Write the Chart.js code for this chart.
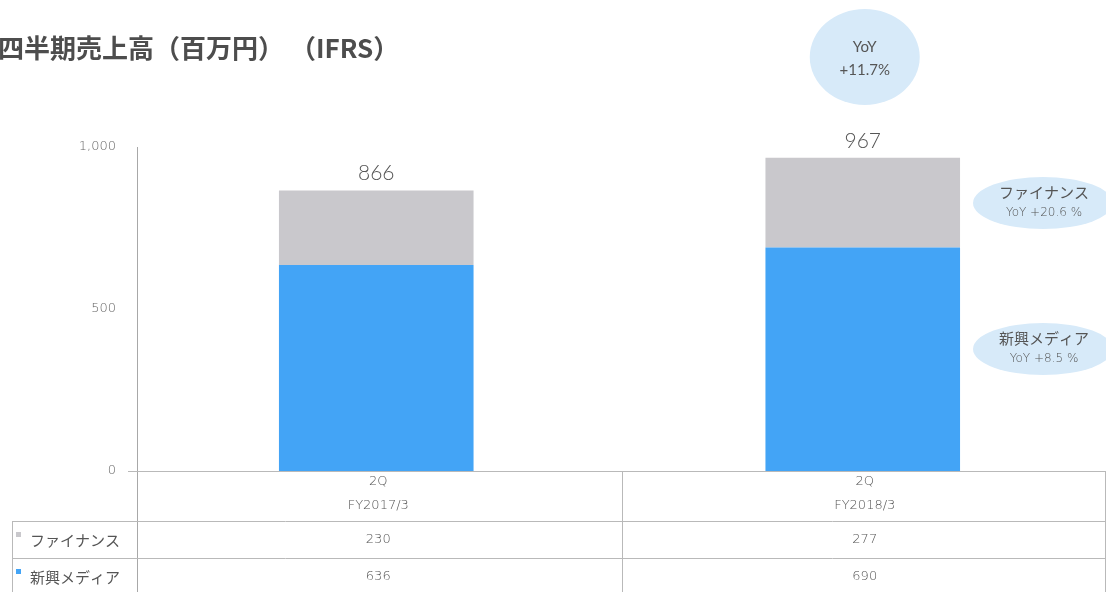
<!DOCTYPE html>
<html lang="ja">
<head>
<meta charset="utf-8">
<title>四半期売上高（百万円）（IFRS）</title>
<script src="https://cdn.jsdelivr.net/npm/chart.js@4.4.1/dist/chart.umd.min.js"></script>
<style>
  html, body { margin: 0; padding: 0; background: #ffffff; }
  #wrap { width: 1106px; height: 592px; position: relative; }
</style>
</head>
<body>
<div id="wrap"><canvas id="c" width="1106" height="592"></canvas></div>
<script>
// Quarterly sales (million yen), by segment
const categories = [["2Q", "FY2017/3"], ["2Q", "FY2018/3"]];
const seriesNames = ["新興メディア", "ファイナンス"];
const mediaValues = [636, 690];
const financeValues = [230, 277];
const yTicks = [0, 500, 1000];
const totalYoY = ["YoY", "+11.7%"];
const financeYoY = ["ファイナンス", "YoY +20.6 %"];
const mediaYoY = ["新興メディア", "YoY +8.5 %"];

const BLUE = "#43a4f6";
const GRAY = "#c9c8cc";
const BUBBLE = "#d7eaf9";
const TEXT = "#555555";
const LINE = "#b9b9b9";
const LATIN = "Lato, 'DejaVu Sans', sans-serif";
const WIDE = "'DejaVu Sans', Lato, sans-serif";
const CJK = "'Noto Sans CJK JP', 'Noto Sans', sans-serif";
const AXIS_X = 137; // where the value axis line sits

const totals = mediaValues.map((v, i) => v + financeValues[i]);

function fmt(n) { return n.toLocaleString("en-US"); }

const overlay = {
  id: "overlay",
  afterDraw(chart) {
    const ctx = chart.ctx;
    const x = chart.scales.x;
    const y = chart.scales.y;
    const area = chart.chartArea;
    const W = chart.width, H = chart.height;
    ctx.save();

    // Title
    ctx.fillStyle = "#4d4d4d";
    ctx.font = "bold 26px " + CJK;
    ctx.textAlign = "left";
    ctx.textBaseline = "middle";
    ctx.fillText("四半期売上高（百万円） （IFRS）", -2, 48);

    // Value axis line
    ctx.strokeStyle = "#a8a8a8";
    ctx.lineWidth = 1;
    ctx.beginPath();
    ctx.moveTo(AXIS_X + 0.5, area.top);
    ctx.lineTo(AXIS_X + 0.5, H);
    ctx.stroke();

    // Totals above each stack
    ctx.font = "300 21px " + LATIN;
    ctx.textAlign = "center";
    ctx.textBaseline = "alphabetic";
    totals.forEach((t, i) => {
      ctx.fillStyle = TEXT;
      ctx.fillText(fmt(t), x.getPixelForValue(i), y.getPixelForValue(t) - 10);
    });

    // YoY bubble over the latest bar
    const bx = x.getPixelForValue(1) + 2;
    ctx.fillStyle = BUBBLE;
    ctx.beginPath();
    ctx.ellipse(bx, 57, 55, 48, 0, 0, Math.PI * 2);
    ctx.fill();
    ctx.fillStyle = TEXT;
    ctx.font = "15px " + LATIN;
    ctx.textBaseline = "middle";
    ctx.fillText(totalYoY[0], bx, 47);
    ctx.fillText(totalYoY[1], bx, 70);

    // Segment YoY ellipses at the right
    function segBubble(lines, cy) {
      const cx = 1043;
      ctx.fillStyle = BUBBLE;
      ctx.beginPath();
      ctx.ellipse(cx, cy, 70, 26, 0, 0, Math.PI * 2);
      ctx.fill();
      ctx.fillStyle = TEXT;
      ctx.font = "15px " + CJK;
      ctx.fillText(lines[0], cx + 1, cy - 11);
      ctx.font = "200 12px " + WIDE;
      ctx.fillText(lines[1], cx + 1, cy + 10);
    }
    segBubble(financeYoY, 203);
    segBubble(mediaYoY, 349);

    // Data table under the axis
    const y0 = area.bottom;
    const rows = [y0, 521, 558];
    const xl = 12;
    const xm = Math.round((x.getPixelForValue(0) + x.getPixelForValue(1)) / 2) + 2;
    const xr = W - 1;
    ctx.strokeStyle = LINE;
    ctx.lineWidth = 1;
    ctx.beginPath();
    ctx.moveTo(128, y0 + 0.5); ctx.lineTo(W, y0 + 0.5);
    ctx.moveTo(xl, rows[1] + 0.5); ctx.lineTo(W, rows[1] + 0.5);
    ctx.moveTo(xl, rows[2] + 0.5); ctx.lineTo(W, rows[2] + 0.5);
    ctx.moveTo(xm + 0.5, y0); ctx.lineTo(xm + 0.5, H);
    ctx.moveTo(xl + 0.5, rows[1]); ctx.lineTo(xl + 0.5, H);
    ctx.moveTo(xr + 0.5, y0); ctx.lineTo(xr + 0.5, H);
    ctx.stroke();

    ctx.fillStyle = TEXT;
    ctx.textAlign = "center";
    ctx.textBaseline = "middle";
    ctx.font = "200 13px " + WIDE;
    categories.forEach((c, i) => {
      const cx = x.getPixelForValue(i) + 2;
      ctx.fillText(c[0], cx, 482);
      ctx.fillText(c[1], cx, 506);
      ctx.fillText(String(financeValues[i]), cx, 540);
      ctx.fillText(String(mediaValues[i]), cx, 577);
    });

    // Row headers with colour keys
    ctx.textAlign = "left";
    ctx.font = "15px " + CJK;
    ctx.fillStyle = GRAY;
    ctx.fillRect(16, 532, 5, 5);
    ctx.fillStyle = BLUE;
    ctx.fillRect(16, 569, 5, 5);
    ctx.fillStyle = TEXT;
    ctx.fillText(seriesNames[1], 30, 540);
    ctx.fillText(seriesNames[0], 30, 577);

    ctx.restore();
  }
};

new Chart(document.getElementById("c"), {
  type: "bar",
  data: {
    labels: categories.map(c => c.join(" ")),
    datasets: [
      { label: seriesNames[0], data: mediaValues, backgroundColor: BLUE, borderWidth: 0 },
      { label: seriesNames[1], data: financeValues, backgroundColor: GRAY, borderWidth: 0 }
    ]
  },
  options: {
    responsive: false,
    animation: false,
    devicePixelRatio: 1,
    layout: { padding: { top: 147, bottom: 121, left: 0, right: 0 } },
    datasets: { bar: { categoryPercentage: 1, barPercentage: 0.4 } },
    plugins: { legend: { display: false }, tooltip: { enabled: false }, title: { display: false } },
    scales: {
      x: { stacked: true, display: false },
      y: {
        stacked: true,
        min: yTicks[0],
        max: yTicks[yTicks.length - 1],
        afterBuildTicks(scale) { scale.ticks = yTicks.map(v => ({ value: v })); },
        afterFit(scale) { scale.width = 133; },
        grid: { display: false, drawTicks: false },
        border: { display: false },
        ticks: {
          padding: 17,
          color: "#666666",
          font: { family: WIDE, size: 13, weight: "200" },
          callback: v => fmt(v)
        }
      }
    }
  },
  plugins: [overlay]
});
</script>
</body>
</html>
